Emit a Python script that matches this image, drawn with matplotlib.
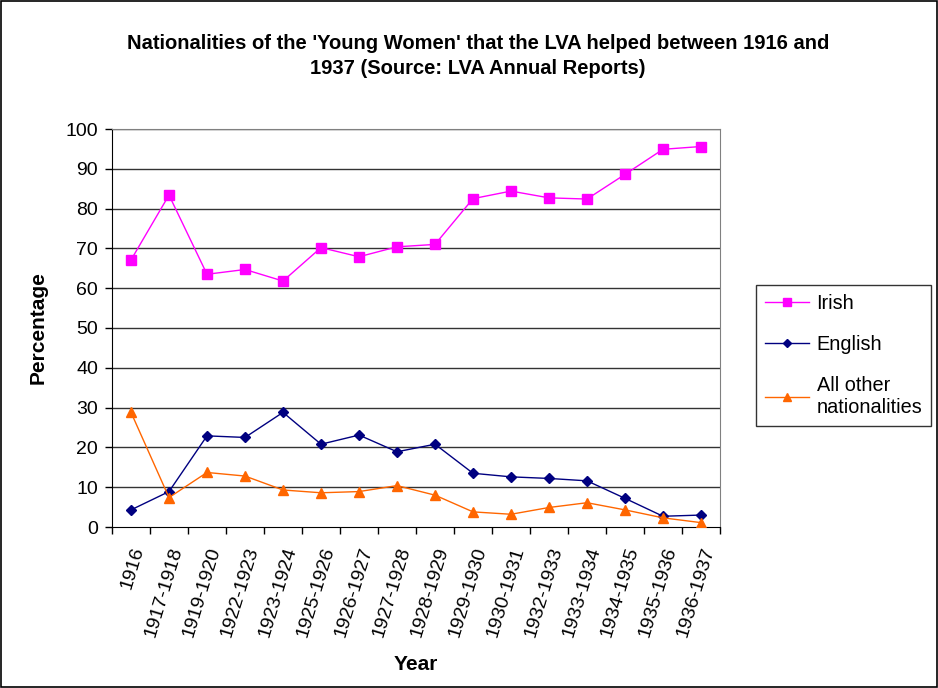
import numpy as np
import matplotlib
matplotlib.use("Agg")
from matplotlib import pyplot as plt
from matplotlib.patches import Rectangle

plt.rcParams['font.family'] = ['Liberation Sans', 'DejaVu Sans']

years = ["1916", "1917-1918", "1919-1920", "1922-1923", "1923-1924", "1925-1926",
         "1926-1927", "1927-1928", "1928-1929", "1929-1930", "1930-1931",
         "1932-1933", "1933-1934", "1934-1935", "1935-1936", "1936-1937"]
irish = [67.1, 83.4, 63.5, 64.7, 61.8, 70.2, 67.9, 70.4, 71.0, 82.5, 84.4,
         82.7, 82.4, 88.6, 94.9, 95.6]
english = [4.3, 8.9, 22.9, 22.5, 28.8, 20.8, 23.1, 18.9, 20.8, 13.5, 12.6,
           12.2, 11.6, 7.2, 2.7, 3.0]
other = [28.8, 7.4, 13.7, 12.8, 9.3, 8.6, 8.9, 10.4, 8.0, 3.8, 3.2,
         4.9, 6.1, 4.3, 2.3, 1.1]

def main():
    fig = plt.figure(figsize=(9.38, 6.88), dpi=100)
    ax = fig.add_axes([112/938, 1-527/688, 608/938, 398/688])
    x = np.arange(len(years))

    for v in range(10, 101, 10):
        ax.axhline(v, color='#333333', lw=1, zorder=1)

    ax.plot(x, irish, color='#FF00FF', lw=1, marker='s', ms=6.5, label='Irish', zorder=3)
    ax.plot(x, english, color='#000080', lw=1, marker='D', ms=5, label='English', zorder=3)
    ax.plot(x, other, color='#FF6600', lw=1, marker='^', ms=7.5,
            label='All other\nnationalities', zorder=3)

    ax.set_xlim(-0.5, len(years) - 0.5)
    ax.set_ylim(0, 100)
    ax.set_yticks(range(0, 101, 10))
    ax.set_xticks(x)
    ax.set_xticklabels(years, rotation=73, ha='right', va='top', rotation_mode='anchor')
    ax.set_xticks(np.arange(-0.5, len(years), 1), minor=True)
    ax.tick_params(axis='x', which='major', length=0, pad=13, labelsize=14)
    ax.tick_params(axis='x', which='minor', length=5, direction='out', width=1)
    ax.tick_params(axis='y', length=5, width=1, labelsize=14, pad=5)

    for s in ['top', 'right']:
        ax.spines[s].set_color('#808080')
    for s in ['left', 'bottom']:
        ax.spines[s].set_color('black')

    ax.set_ylabel('Percentage', fontsize=15, fontweight='bold', va='center')
    ax.yaxis.set_label_coords((38-112)/608, 0.5)
    ax.set_xlabel('Year', fontsize=15, fontweight='bold', va='center')
    ax.xaxis.set_label_coords(0.5, (527-665)/398)

    fig.text(478/938, 1-56/688,
             "Nationalities of the 'Young Women' that the LVA helped between 1916 and\n"
             "1937 (Source: LVA Annual Reports)",
             ha='center', va='center', fontsize=14.5, fontweight='bold', linespacing=1.45)

    leg = fig.legend(loc='upper left', bbox_to_anchor=(756/938, 1-285/688),
                     fontsize=14.3, frameon=True, fancybox=False, edgecolor='black',
                     labelspacing=1.12, handlelength=2.2, handletextpad=0.4,
                     borderpad=0.45, markerscale=0.8, borderaxespad=0)
    leg.get_frame().set_linewidth(1)

    fig.patches.append(Rectangle((0.001, 0.001), 0.998, 0.998, transform=fig.transFigure,
                                 fill=False, edgecolor='black', lw=1.2))

    fig.savefig('out.png', dpi=100)

if __name__ == "__main__":
    main()
